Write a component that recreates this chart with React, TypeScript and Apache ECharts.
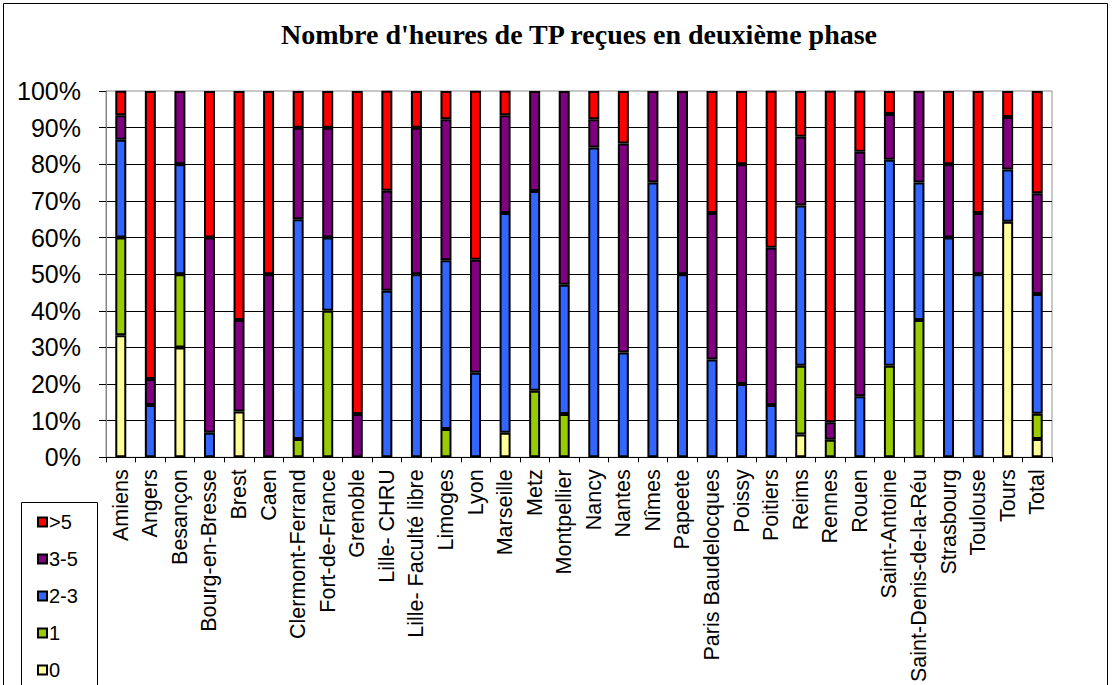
import React, { useEffect, useRef } from "react";
import * as echarts from "echarts";

const categories = [
  "Amiens", "Angers", "Besançon", "Bourg-en-Bresse", "Brest", "Caen", "Clermont-Ferrand",
  "Fort-de-France", "Grenoble", "Lille- CHRU", "Lille- Faculté libre", "Limoges", "Lyon",
  "Marseille", "Metz", "Montpellier", "Nancy", "Nantes", "Nîmes", "Papeete",
  "Paris Baudelocques", "Poissy", "Poitiers", "Reims", "Rennes", "Rouen", "Saint-Antoine",
  "Saint-Denis-de-la-Réu", "Strasbourg", "Toulouse", "Tours", "Total",
];

const v0 = [33.3, 0, 30, 0, 12.5, 0, 0, 0, 0, 0, 0, 0, 0, 6.7, 0, 0, 0, 0, 0, 0, 0, 0, 0, 6.25, 0, 0, 0, 0, 0, 0, 64.3, 5.0];
const v1 = [26.7, 0, 20, 0, 0, 0, 5, 40, 0, 0, 0, 7.7, 0, 0, 18.2, 11.8, 0, 0, 0, 0, 0, 0, 0, 18.75, 4.8, 0, 25, 37.5, 0, 0, 0, 6.9];
const v23 = [26.7, 14.3, 30, 6.7, 0, 0, 60, 20, 0, 45.5, 50, 46.1, 23.1, 60, 54.5, 35.3, 84.6, 28.6, 75, 50, 26.7, 20, 14.3, 43.75, 0, 16.7, 56.25, 37.5, 60, 50, 14.3, 32.7];
const v35 = [6.7, 7.1, 20, 53.3, 25, 50, 25, 30, 11.8, 27.3, 40, 38.5, 30.8, 26.7, 27.3, 52.9, 7.7, 57.1, 25, 50, 40, 60, 42.9, 18.75, 4.8, 66.7, 12.5, 25, 20, 16.7, 14.3, 27.5];
const v5 = [6.7, 78.6, 0, 40, 62.5, 50, 10, 10, 88.2, 27.3, 10, 7.7, 46.2, 6.7, 0, 0, 7.7, 14.3, 0, 0, 33.3, 20, 42.9, 12.5, 90.5, 16.7, 6.25, 0, 20, 33.3, 7.1, 27.9];

const seriesNames = ["0", "1", "2-3", "3-5", ">5"];
const seriesValues = [v0, v1, v23, v35, v5];
const seriesColors = ["#FFFF99", "#99CC00", "#3366FF", "#800080", "#FF0000"];
const legendOrder = [">5", "3-5", "2-3", "1", "0"];

export default function App() {
  const ref = useRef<HTMLDivElement>(null);
  useEffect(() => {
    if (!ref.current) return;
    const chart = echarts.init(ref.current, null, { renderer: "svg" });
    chart.setOption({
      animation: false,
      backgroundColor: "#ffffff",
      title: {
        text: "Nombre d'heures de TP reçues en deuxième phase",
        left: 574,
        textAlign: "center",
        top: 15,
        textStyle: {
          fontFamily: "Liberation Serif",
          fontWeight: "bold",
          fontSize: 28,
          color: "#000",
        },
      },
      graphic: [
        {
          type: "rect",
          shape: { x: 3.5, y: 3.5, width: 1104, height: 720 },
          style: { fill: "none", stroke: "#000", lineWidth: 1 },
          silent: true,
        },
        {
          type: "rect",
          shape: { x: 21.5, y: 502.5, width: 76, height: 220 },
          style: { fill: "#fff", stroke: "#000", lineWidth: 1 },
          silent: true,
        },
      ],
      legend: {
        data: legendOrder,
        orient: "vertical",
        left: 37,
        top: 512,
        height: 300,
        padding: 0,
        itemWidth: 9,
        itemHeight: 9,
        itemGap: 17,
        icon: "rect",
        itemStyle: { borderColor: "#000", borderWidth: 2 },
        textStyle: {
          fontFamily: "Liberation Sans",
          fontSize: 20,
          lineHeight: 18,
          color: "#000",
          padding: [0, 0, 0, -3],
        },
        z: 10,
      },
      grid: {
        left: 106,
        right: 60,
        top: 91,
        bottom: 227,
        show: true,
        borderColor: "#909090",
        borderWidth: 1,
        containLabel: false,
      },
      xAxis: {
        type: "category",
        data: categories,
        axisLine: { lineStyle: { color: "#000", width: 1 } },
        axisTick: { show: true, length: 5, lineStyle: { color: "#000" } },
        axisLabel: {
          rotate: 90,
          interval: 0,
          margin: 12,
          fontFamily: "Liberation Sans",
          fontSize: 21.5,
          color: "#000",
        },
      },
      yAxis: {
        type: "value",
        min: 0,
        max: 100,
        interval: 10,
        axisLine: { show: true, lineStyle: { color: "#808080", width: 1 } },
        axisTick: { show: true, length: 7, lineStyle: { color: "#000" } },
        splitLine: { show: true, showMinLine: false, showMaxLine: false, lineStyle: { color: "#000", width: 1 } },
        axisLabel: {
          formatter: "{value}%",
          margin: 25,
          fontFamily: "Liberation Sans",
          fontSize: 25,
          color: "#000",
        },
      },
      series: seriesNames.map((name, i) => ({
        name,
        type: "bar",
        stack: "total",
        barWidth: 11,
        data: seriesValues[i].map((v) => (v === 0 ? null : v)),
        itemStyle: { color: seriesColors[i], borderColor: "#000", borderWidth: 2 },
      })),
    });
    return () => chart.dispose();
  }, []);
  return (
    <div
      ref={ref}
      style={{ position: "absolute", left: 0, top: 0, width: 1112, height: 685 }}
    />
  );
}
